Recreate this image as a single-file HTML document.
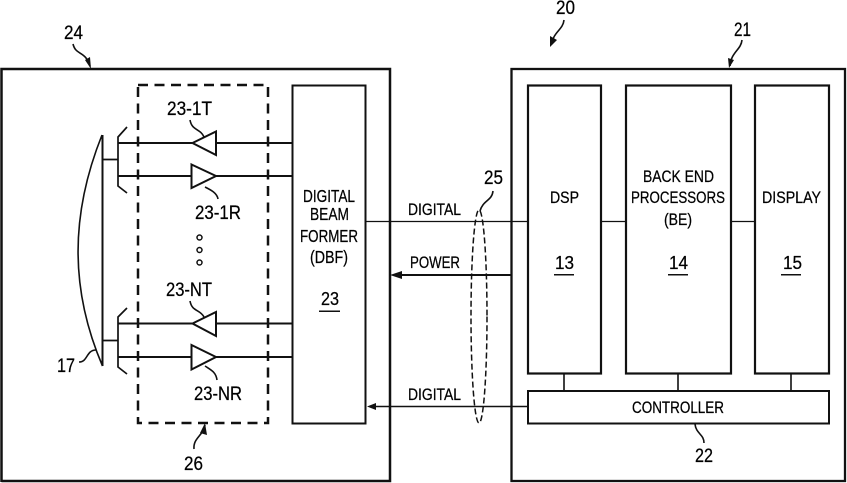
<!DOCTYPE html>
<html><head><meta charset="utf-8"><style>
html,body{margin:0;padding:0;background:#fff;width:847px;height:483px;overflow:hidden}
svg{display:block}
text{font-family:"Liberation Sans",sans-serif;fill:#000;font-size:16.5px;stroke:#000;stroke-width:.25px}
.n{font-size:18.5px}
.l{font-size:19.5px}
.d{font-size:17.5px}
</style></head><body>
<svg width="847" height="483" viewBox="0 0 847 483" xmlns="http://www.w3.org/2000/svg">
<g fill="none" stroke="#111" stroke-width="2">
<path d="M1.5 482V69H390V481H1.5" stroke-width="2.5"/>
<rect x="511.5" y="69" width="333.5" height="412" stroke-width="2.3"/>
<rect x="138" y="85" width="130" height="338" stroke-width="2.5" stroke-dasharray="10 6.5"/>
<rect x="292.5" y="85.5" width="73" height="338"/>
<rect x="528" y="85.5" width="73" height="288" stroke-width="2.2"/>
<rect x="626" y="85.5" width="105" height="288" stroke-width="2.2"/>
<rect x="755" y="85.5" width="74" height="288" stroke-width="2.2"/>
<rect x="528" y="391" width="301" height="32.5" stroke-width="2"/>
<!-- antenna -->
<path d="M102.5 135V366" stroke-width="2"/>
<path d="M102 135C70 215 70 290 102.5 366" stroke-width="1.6"/>
<path d="M103 159.5H118M103 340.5H118" stroke-width="1.7"/>
<path d="M127 127L118 137V186L127 193M127 308L118 317V367L127 374" stroke-width="1.7"/>
<!-- feed lines -->
<path d="M118 143H192M216 143H292M118 176H191M216 176H292M118 323.5H192M216 323.5H292M118 357H191M216 357H292" stroke-width="2"/>
<g stroke-width="2" fill="#fff">
<path d="M192.500 143L216 131.500V155Z"/>
<path d="M191.500 164.500L216 176L191.500 188Z"/>
<path d="M192.500 323.500L216 312V336Z"/>
<path d="M191.500 345L216 357L191.500 369.500Z"/>
</g>
<circle cx="199.500" cy="237.500" r="2.500" stroke-width="1.500"/>
<circle cx="199.500" cy="250" r="2.500" stroke-width="1.500"/>
<circle cx="199.500" cy="262.500" r="2.500" stroke-width="1.500"/>
<!-- connectors -->
<path d="M365 221.500H528M601 221.500H626M731 221.500H755" stroke-width="1.300"/>
<path d="M395 275H512" stroke-width="2"/>
<path d="M372 406.500H528" stroke-width="1.500"/>
<path d="M564 373V391M678 373V391M791 373V391" stroke-width="1.600"/>
<ellipse cx="479" cy="316.500" rx="8" ry="106.500" stroke-width="1.500" stroke-dasharray="6 3"/>
<!-- leaders -->
<g stroke-width="1.600">
<path d="M73 44C76 56 85 50 90 66"/>
<path d="M564 20C563 30 553 32 552 44"/>
<path d="M742 40C741 50 731 52 730 66"/>
<path d="M194 449C193 438 203 436 205 425"/>
<path d="M695 424C696 434 704 434 704 443"/>
<path d="M79 362C88 362 86 350 96 350"/>
<path d="M493 191C492 201 483 200 480 211"/>
<path d="M190 120C192 131 200 128 204 137"/>
<path d="M205 187C211 190 217 193 218 199"/>
<path d="M190 301C192 312 200 309 204 317"/>
<path d="M205 366C211 370 216 372 217 380"/>
</g>
</g>
<g fill="#111">
<path d="M390 275L402 271V279Z"/>
<path d="M367 406.500L376 403V410Z"/>
<path d="M91 69L85 60L90 57Z"/>
<path d="M550 47L550 36L557 40Z"/>
<path d="M729 68L728 58L734 60Z"/>
<path d="M205 423L200 433L207 435Z"/>
<rect x="319" y="310.500" width="21" height="1.500"/>
<rect x="554" y="274" width="20" height="1.500"/>
<rect x="668" y="274" width="20" height="1.500"/>
<rect x="781" y="274" width="20" height="1.500"/>
</g>
<g>
<text class="l" x="167" y="115" textLength="45" lengthAdjust="spacingAndGlyphs">23-1T</text>
<text class="l" x="195" y="219" textLength="46" lengthAdjust="spacingAndGlyphs">23-1R</text>
<text class="l" x="166" y="296" textLength="46" lengthAdjust="spacingAndGlyphs">23-NT</text>
<text class="l" x="194" y="400" textLength="48" lengthAdjust="spacingAndGlyphs">23-NR</text>
<text class="l" x="57" y="372" textLength="18" lengthAdjust="spacingAndGlyphs">17</text>
<text class="l" x="184" y="470" textLength="19" lengthAdjust="spacingAndGlyphs">26</text>
<text class="l" x="64" y="39" textLength="19" lengthAdjust="spacingAndGlyphs">24</text>
<text class="l" x="556" y="14" textLength="19" lengthAdjust="spacingAndGlyphs">20</text>
<text class="l" x="734" y="36" textLength="17" lengthAdjust="spacingAndGlyphs">21</text>
<text class="l" x="484" y="184" textLength="19" lengthAdjust="spacingAndGlyphs">25</text>
<text class="l" x="695" y="462" textLength="18" lengthAdjust="spacingAndGlyphs">22</text>
<text x="408" y="215" textLength="53" lengthAdjust="spacingAndGlyphs">DIGITAL</text>
<text x="410" y="268" textLength="50" lengthAdjust="spacingAndGlyphs">POWER</text>
<text x="408" y="400" textLength="53" lengthAdjust="spacingAndGlyphs">DIGITAL</text>
<text class="d" x="303" y="202" textLength="52" lengthAdjust="spacingAndGlyphs">DIGITAL</text>
<text class="d" x="310" y="220" textLength="39" lengthAdjust="spacingAndGlyphs">BEAM</text>
<text class="d" x="300" y="242" textLength="58" lengthAdjust="spacingAndGlyphs">FORMER</text>
<text class="d" x="310" y="263" textLength="38" lengthAdjust="spacingAndGlyphs">(DBF)</text>
<text class="n" x="321" y="305" textLength="18" lengthAdjust="spacingAndGlyphs">23</text>
<text x="550" y="203" textLength="29" lengthAdjust="spacingAndGlyphs">DSP</text>
<text class="n" x="555" y="269" textLength="19" lengthAdjust="spacingAndGlyphs">13</text>
<text x="643" y="182" textLength="71" lengthAdjust="spacingAndGlyphs">BACK END</text>
<text x="631" y="203" textLength="94" lengthAdjust="spacingAndGlyphs">PROCESSORS</text>
<text x="664" y="225" textLength="28" lengthAdjust="spacingAndGlyphs">(BE)</text>
<text class="n" x="669" y="269" textLength="19" lengthAdjust="spacingAndGlyphs">14</text>
<text x="762" y="203" textLength="59" lengthAdjust="spacingAndGlyphs">DISPLAY</text>
<text class="n" x="783" y="269" textLength="19" lengthAdjust="spacingAndGlyphs">15</text>
<text x="632" y="413" textLength="92" lengthAdjust="spacingAndGlyphs">CONTROLLER</text>
</g>
</svg>
</body></html>
